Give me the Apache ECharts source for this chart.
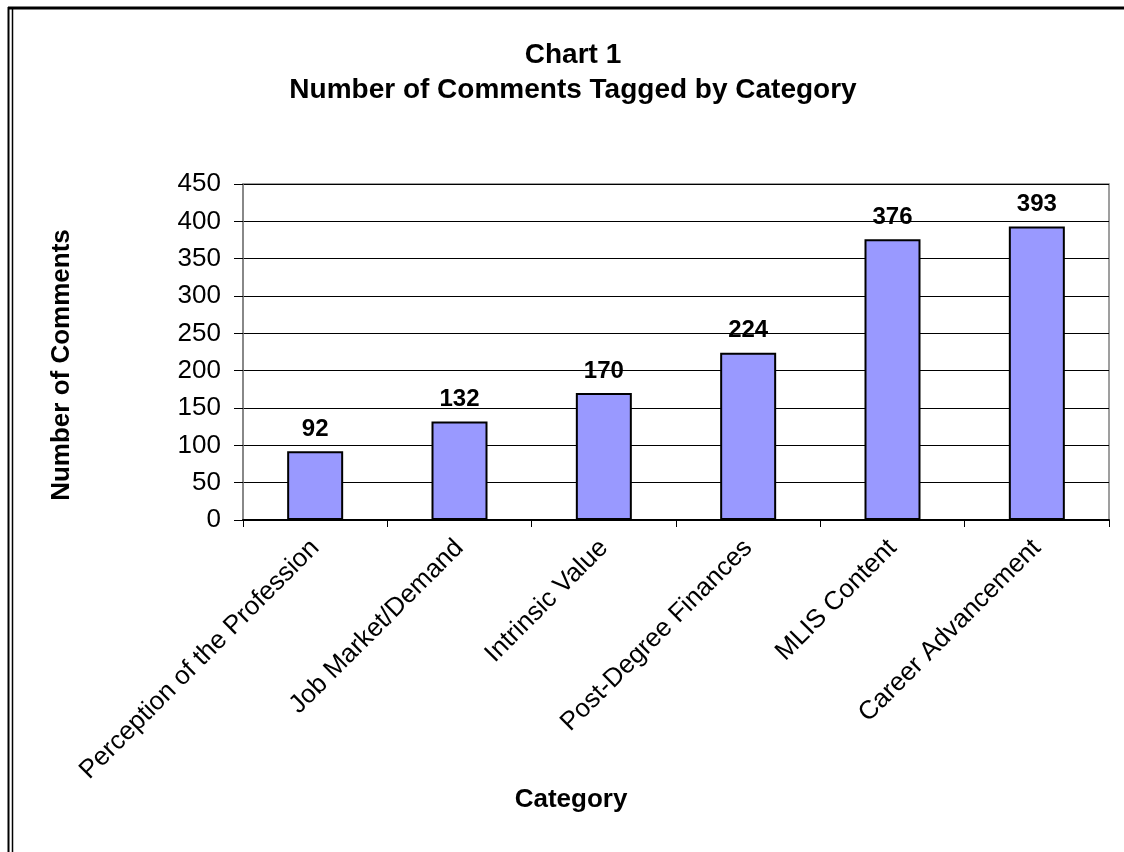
<!DOCTYPE html>
<html>
<head>
<meta charset="utf-8">
<script src="https://cdn.jsdelivr.net/npm/echarts@6/dist/echarts.min.js"></script>
<style>html,body{margin:0;padding:0;background:#fff;}#c{width:1124px;height:852px;}</style>
</head>
<body>
<div id="c"></div>
<script>
const categories = ["Perception of the Profession", "Job Market/Demand", "Intrinsic Value", "Post-Degree Finances", "MLIS Content", "Career Advancement"];
const values = [92, 132, 170, 224, 376, 393];
const yTicks = [0, 50, 100, 150, 200, 250, 300, 350, 400, 450];

const FONT = '"Liberation Sans", Arial, sans-serif';
const chart = echarts.init(document.getElementById('c'));
chart.setOption({
  backgroundColor: '#fff',
  animation: false,
  title: [{
    text: 'Chart 1\nNumber of Comments Tagged by Category',
    left: 573, top: 38, textAlign: 'center', padding: 0,
    textStyle: { fontFamily: FONT, fontSize: 28, fontWeight: 'bold', color: '#000', lineHeight: 35 }
  }],
  graphic: [
    { type: 'line', shape: { x1: 8, y1: 8, x2: 1124, y2: 8 }, style: { stroke: '#000', lineWidth: 3 } },
    { type: 'line', shape: { x1: 8.5, y1: 7, x2: 8.5, y2: 852 }, style: { stroke: '#000', lineWidth: 2 } },
    { type: 'line', shape: { x1: 12.5, y1: 9, x2: 12.5, y2: 852 }, style: { stroke: '#000', lineWidth: 1.5 } },
    { type: 'text', x: 62, y: 365, rotation: Math.PI / 2,
      style: { text: 'Number of Comments', font: 'bold 26px ' + FONT, fill: '#000', textAlign: 'center', textVerticalAlign: 'middle' } },
    { type: 'text', x: 571, y: 800,
      style: { text: 'Category', font: 'bold 26px ' + FONT, fill: '#000', textAlign: 'center', textVerticalAlign: 'middle' } }
  ],
  grid: { left: 243, top: 184, right: 15, bottom: 332, show: true, borderColor: '#808080', borderWidth: 1.5 },
  xAxis: {
    type: 'category',
    data: categories,
    axisLine: { lineStyle: { color: '#000', width: 2 } },
    axisTick: { show: true, alignWithLabel: false, length: 7, lineStyle: { color: '#000', width: 1 } },
    axisLabel: { rotate: 45, interval: 0, margin: 24, fontFamily: FONT, fontSize: 26, color: '#000' }
  },
  yAxis: {
    type: 'value',
    min: 0, max: 450, interval: 50,
    axisLine: { show: true, lineStyle: { color: '#808080', width: 1.5 } },
    axisTick: { show: true, length: 9, lineStyle: { color: '#000' } },
    axisLabel: { fontFamily: FONT, fontSize: 26, color: '#000', margin: 22,
      formatter: v => yTicks.includes(v) ? String(v) : '' },
    splitLine: { lineStyle: { color: '#000', width: 1 } }
  },
  series: [{
    type: 'bar',
    data: values,
    barWidth: 56,
    itemStyle: { color: '#9999FF', borderColor: '#000', borderWidth: 2 },
    label: { show: true, position: 'top', distance: 10, fontFamily: FONT, fontSize: 24, fontWeight: 'bold', color: '#000' }
  }]
});
</script>
</body>
</html>
